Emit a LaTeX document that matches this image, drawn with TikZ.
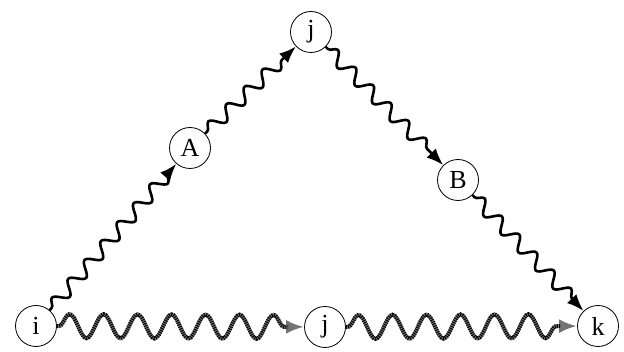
\documentclass[tikz,border=0pt]{standalone}
\usepackage{fontspec}
\setmainfont{Liberation Serif}
\usetikzlibrary{decorations.pathmorphing,arrows.meta}
\tikzset{
  vert/.style={circle, draw, line width=0.8pt, minimum size=41pt, inner sep=0pt, font=\fontsize{26}{30}\selectfont},
  wavy/.style={line width=2.6pt, decorate, decoration={snake, amplitude=6.5pt, segment length=25pt, pre length=3pt, post length=12pt}, -{Latex[length=17pt,width=13pt]}},
  hwave/.style={line width=4pt, decorate, decoration={snake, amplitude=12pt, segment length=34pt, pre length=2pt, post length=15pt}},
  hatchbase/.style={hwave, black!55, -{Latex[length=18pt,width=14pt]}},
  hatchtop/.style={hwave, black, dash pattern=on 1pt off 1.2pt, shorten >=16pt}
}
\begin{document}
\begin{tikzpicture}[x=1pt,y=1pt]
\useasboundingbox (0,0) rectangle (624,351);
\node[vert] (i) at (36,25) {i};
\node[vert] (A) at (190,203) {A};
\node[vert] (jt) at (311,319) {j};
\node[vert] (B) at (458,171) {B};
\node[vert] (k) at (598,25) {k};
\node[vert] (jb) at (325,24) {j};
\draw[wavy] (i) -- (A);
\draw[wavy] (A) -- (jt);
\draw[wavy] (jt) -- (B);
\draw[wavy] (B) -- (k);
\draw[hatchbase] (i) -- (jb);
\draw[hatchbase] (jb) -- (k);
\draw[hatchtop] (i) -- (jb);
\draw[hatchtop] (jb) -- (k);
\end{tikzpicture}
\end{document}
